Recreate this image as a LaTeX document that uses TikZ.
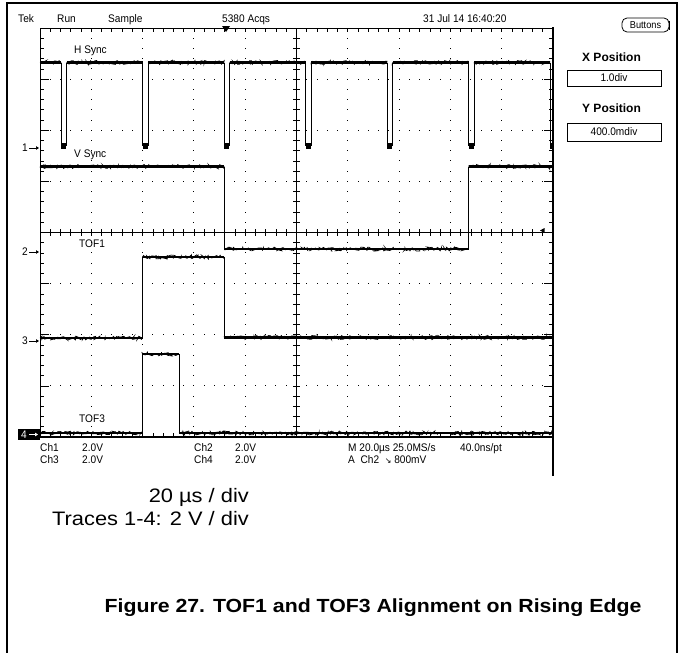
\documentclass[tikz,border=0pt]{standalone}
\usepackage{fontspec}
\setmainfont{Liberation Sans}
\newfontfamily\capfont[FakeStretch=1.12]{Liberation Sans}
\newfontfamily\tekfont[FakeStretch=0.92]{Liberation Sans}
\newfontfamily\symfont{DejaVu Sans}
\usetikzlibrary{arrows.meta,decorations.pathmorphing}
\newcommand\hseg[3]{\draw[band] (#1,#3) -- (#2,#3); \draw[noise] (#1,#3) -- (#2,#3);}
\begin{document}
\pgfmathsetseed{7}
\begin{tikzpicture}[x=1pt,y=-1pt,
  scopetext/.style={font=\tekfont\fontsize{11}{13}\selectfont, inner sep=0pt, anchor=base west},
  paneltitle/.style={font=\bfseries\fontsize{12}{14}\selectfont, inner sep=0pt},
  bigtext/.style={font=\capfont\fontsize{19.5}{22}\selectfont, inner sep=0pt, anchor=base east},
  captext/.style={font=\capfont\bfseries\fontsize{19}{22}\selectfont, inner sep=0pt, anchor=base},
  valbox/.style={draw, line width=0.8pt, font=\tekfont\fontsize{11}{13}\selectfont, inner sep=0pt},
  trace/.style={line width=0.9pt},
  band/.style={line width=2.8pt},
  noise/.style={line width=0.7pt, decorate, decoration={random steps, segment length=1.2pt, amplitude=2pt}},
  tick/.style={line width=0.7pt},
  marker/.style={font=\tekfont\fontsize{11}{13}\selectfont, inner sep=0pt}
]
\useasboundingbox (0,0) rectangle (681,653);
% outer frame
\draw[line width=1.2pt] (7,660) -- (7,3) -- (677,3) -- (677,660);

% header
\node[scopetext] (tek) at (18,22) {Tek};
\node[scopetext] (run) at (57,22) {Run};
\node[scopetext] (sample) at (108,22) {Sample};
\node[scopetext] (acqs) at (222,22) {5380 Acqs};
\node[scopetext] (date) at (423,22) {31 Jul 14 16:40:20};

% right panel
\draw[line width=0.8pt, rounded corners=5pt] (622,18) rectangle (669,32);
\draw[line width=1.6pt] (669.5,21) -- (669.5,30);
\node[font=\tekfont\fontsize{10}{12}\selectfont, inner sep=0pt] (buttons) at (645.5,25) {Buttons};
\node[paneltitle] (xpos) at (611.5,57) {X Position};
\node[valbox, minimum width=94pt, minimum height=16pt] (xval) at (614,78) {1.0div};
\node[paneltitle] (ypos) at (611.5,108) {Y Position};
\node[valbox, minimum width=94pt, minimum height=18pt] (yval) at (614,132) {400.0mdiv};

% graticule dots
\foreach \k in {1,2,3,4,6,7,8,9} {
  \foreach \j in {1,...,39} {
    \fill ({40+51.3*\k-0.5},{28+10.225*\j-0.5}) rectangle ++(1,1);
  }
}
\foreach \m in {1,2,3,5,6,7} {
  \foreach \i in {1,...,49} {
    \fill ({40+10.26*\i-0.5},{28+51.125*\m-0.5}) rectangle ++(1,1);
  }
}
% edge ticks
\foreach \i in {1,...,49} {
  \draw[tick] ({40+10.26*\i},28) -- ++(0,4);
  \draw[tick] ({40+10.26*\i},437) -- ++(0,-4);
  \draw[tick] ({40+10.26*\i},{232.5-3.5}) -- ++(0,7);
}
\foreach \j in {1,...,39} {
  \draw[tick] (40,{28+10.225*\j}) -- ++(4,0);
  \draw[tick] (553,{28+10.225*\j}) -- ++(-4,0);
  \draw[tick] ({296.5-3.5},{28+10.225*\j}) -- ++(7,0);
}
\foreach \j in {1,...,7} {
  \draw[tick] (40,{28+51.125*\j}) -- ++(9,0);
  \draw[tick] (553,{28+51.125*\j}) -- ++(-9,0);
}
% frame and centre cross
\draw[line width=0.8pt] (40,28) -- (553,28);
\draw[line width=0.8pt] (40,28) -- (40,437);
\draw[line width=1.2pt] (40,437) -- (553,437);
\draw[line width=2pt] (553,27) -- (553,476);
\draw[line width=0.8pt] (40,232.5) -- (553,232.5);
\draw[line width=0.8pt] (296.5,28) -- (296.5,437);
% trigger markers
\fill (222,26) -- (230,26) -- (226,32) -- cycle;
\fill (540,230.5) -- (544.5,228) -- (544.5,233) -- cycle;

% channel markers
\node[marker] (m1) at (25,148) {1};
\draw[-{Triangle[length=3pt,width=3.5pt]}, line width=0.7pt] (29,148) -- (39,148);
\node[marker] (m2) at (25,252) {2};
\draw[-{Triangle[length=3pt,width=3.5pt]}, line width=0.7pt] (29,252) -- (39,252);
\node[marker] (m3) at (25,341) {3};
\draw[-{Triangle[length=3pt,width=3.5pt]}, line width=0.7pt] (29,341) -- (39,341);
\fill (18,429) rectangle (40,440);
\node[marker, text=white] (m4) at (24,434.5) {4};
\draw[white, -{Triangle[length=3pt,width=3.5pt]}, line width=0.7pt] (29,434.5) -- (38,434.5);

% trace labels
\node[scopetext] (lhs) at (74,53.5) {H Sync};
\node[scopetext] (lvs) at (74,157) {V Sync};
\node[scopetext] (ltof1) at (79,247) {TOF1};
\node[scopetext] (ltof3) at (79,422) {TOF3};

% H Sync trace
\hseg{40}{61}{62.5}
\foreach \p/\q in {61/142.5,142.5/224,224/305.5,305.5/387,387/468.5,468.5/550} {
  \draw[trace] (\p,62.5) -- (\p,145) -- ({\p+5.5},145) -- ({\p+5.5},62.5);
  \fill (\p,143) rectangle ({\p+5},148.5);
  \hseg{\p+5.5}{\q}{62.5}
}
\draw[trace] (550,62.5) -- (550,146);
\fill (550,143) rectangle (553,148.5);

% V Sync trace
\hseg{40}{224.3}{166.5}
\draw[trace] (224.3,166.5) -- (224.3,249);
\hseg{224.3}{468.5}{249}
\draw[trace] (468.5,249) -- (468.5,166.5);
\hseg{468.5}{553}{166.5}

% TOF1 trace
\hseg{40}{142.5}{338}
\draw[trace] (142.5,338) -- (142.5,257);
\hseg{142.5}{224.3}{257}
\draw[trace] (224.3,257) -- (224.3,337.5);
\hseg{224.3}{553}{337.5}

% TOF3 trace
\hseg{40}{142.5}{433}
\draw[trace] (142.5,433) -- (142.5,354);
\hseg{142.5}{179}{354}
\draw[trace] (179,354) -- (179,433);
\hseg{179}{553}{433}

% readout
\node[scopetext] (c1) at (40,451) {Ch1};
\node[scopetext] (c1v) at (82,451) {2.0V};
\node[scopetext] (c3) at (40,463) {Ch3};
\node[scopetext] (c3v) at (82,463) {2.0V};
\node[scopetext] (c2) at (194,451) {Ch2};
\node[scopetext] (c2v) at (235,451) {2.0V};
\node[scopetext] (c4) at (194,463) {Ch4};
\node[scopetext] (c4v) at (235,463) {2.0V};
\node[scopetext] (tb) at (348,451) {M 20.0µs 25.0MS/s};
\node[scopetext] (res) at (460,451) {40.0ns/pt};
\node[scopetext] (trig) at (348,463) {A\ \ Ch2\ \ {\symfont\fontsize{8}{10}\selectfont ↘}\ 800mV};

% notes and caption
\node[bigtext] (tdiv) at (249,502) {20 µs / div};
\node[bigtext] (vdiv) at (249,525) {Traces 1-4: 2 V / div};
\node[captext] (cap) at (373,612) {Figure 27. TOF1 and TOF3 Alignment on Rising Edge};
\end{tikzpicture}
\end{document}
